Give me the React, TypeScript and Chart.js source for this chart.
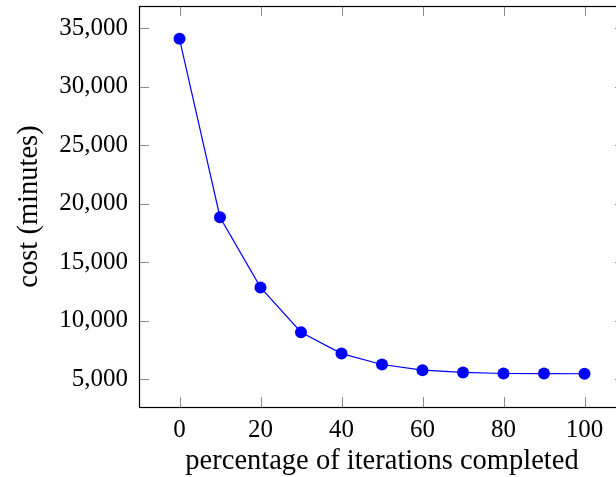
import React, { useEffect, useRef } from "react";
import { Chart, registerables } from "chart.js";

Chart.register(...registerables);

// ---- data ----
const iterationPercent = [0, 10, 20, 30, 40, 50, 60, 70, 80, 90, 100];
const costMinutes = [34080, 18850, 12860, 9030, 7210, 6280, 5790, 5600, 5510, 5500, 5490];
const xTickValues = [0, 20, 40, 60, 80, 100];
const yTickValues = [5000, 10000, 15000, 20000, 25000, 30000, 35000];
const xTitle = "percentage of iterations completed";
const yTitle = "cost (minutes)";

const CANVAS_W = 640;
const CANVAS_H = 477;
const FONT = "'Liberation Serif', 'Times New Roman', serif";

const frameAndTicks = {
  id: "frameAndTicks",
  beforeDatasetsDraw(chart: any) {
    const { ctx, chartArea: a, scales } = chart;
    const len = 10;
    ctx.save();
    ctx.strokeStyle = "#8c8c8c";
    ctx.lineWidth = 1;
    ctx.beginPath();
    for (const v of xTickValues) {
      const px = Math.round(scales.x.getPixelForValue(v)) + 0.5;
      ctx.moveTo(px, a.bottom);
      ctx.lineTo(px, a.bottom - len);
      ctx.moveTo(px, a.top);
      ctx.lineTo(px, a.top + len);
    }
    for (const v of yTickValues) {
      const py = Math.round(scales.y.getPixelForValue(v)) + 0.5;
      ctx.moveTo(a.left, py);
      ctx.lineTo(a.left + len, py);
      ctx.moveTo(a.right, py);
      ctx.lineTo(a.right - len, py);
    }
    ctx.stroke();
    ctx.strokeStyle = "#000";
    ctx.lineWidth = 1.2;
    ctx.strokeRect(
      Math.round(a.left) + 0.5,
      Math.round(a.top) + 0.5,
      Math.round(a.right - a.left),
      Math.round(a.bottom - a.top)
    );
    ctx.restore();
  },
};

export default function App() {
  const ref = useRef<HTMLCanvasElement | null>(null);

  useEffect(() => {
    const canvas = ref.current;
    if (!canvas) return;
    const chart = new Chart(canvas, {
      type: "line",
      data: {
        datasets: [
          {
            data: iterationPercent.map((x, i) => ({ x, y: costMinutes[i] })),
            borderColor: "#0000ff",
            backgroundColor: "#0000ff",
            borderWidth: 1.2,
            pointRadius: 6,
            pointHoverRadius: 6,
            pointBorderWidth: 0,
            tension: 0,
          },
        ],
      },
      options: {
        responsive: false,
        animation: false,
        devicePixelRatio: 1,
        layout: { padding: { left: 0, top: 5, right: CANVAS_W - 625, bottom: 0 } },
        plugins: { legend: { display: false }, tooltip: { enabled: false } },
        scales: {
          x: {
            type: "linear",
            min: -10,
            max: 110,
            grid: { display: false, drawTicks: false },
            border: { display: false },
            afterBuildTicks: (s: any) => {
              s.ticks = xTickValues.map((value) => ({ value }));
            },
            afterFit: (s: any) => {
              s.height = CANVAS_H - 407;
              s.paddingLeft = 0;
              s.paddingRight = 0;
            },
            ticks: {
              padding: 8,
              color: "#000",
              font: { family: FONT, size: 25 },
              maxRotation: 0,
            },
            title: {
              display: true,
              text: xTitle,
              color: "#000",
              font: { family: FONT, size: 28.5 },
              padding: { top: 0, bottom: -2 },
            },
          },
          y: {
            type: "linear",
            min: 2650,
            max: 36880,
            grid: { display: false, drawTicks: false },
            border: { display: false },
            afterBuildTicks: (s: any) => {
              s.ticks = yTickValues.map((value) => ({ value }));
            },
            afterFit: (s: any) => {
              s.width = 139;
              s.paddingTop = 0;
              s.paddingBottom = 0;
            },
            ticks: {
              padding: 11,
              color: "#000",
              font: { family: FONT, size: 25 },
              callback: (v: any) => Number(v).toLocaleString("en-US"),
            },
            title: {
              display: true,
              text: yTitle,
              color: "#000",
              font: { family: FONT, size: 28.5 },
              padding: { top: 12, bottom: 0 },
            },
          },
        },
      },
      plugins: [frameAndTicks],
    });
    return () => chart.destroy();
  }, []);

  return (
    <div
      style={{
        position: "fixed",
        left: 0,
        top: 0,
        width: 616,
        height: 477,
        overflow: "hidden",
        background: "#fff",
      }}
    >
      <canvas
        ref={ref}
        width={CANVAS_W}
        height={CANVAS_H}
        style={{ width: CANVAS_W, height: CANVAS_H, display: "block" }}
      />
    </div>
  );
}
